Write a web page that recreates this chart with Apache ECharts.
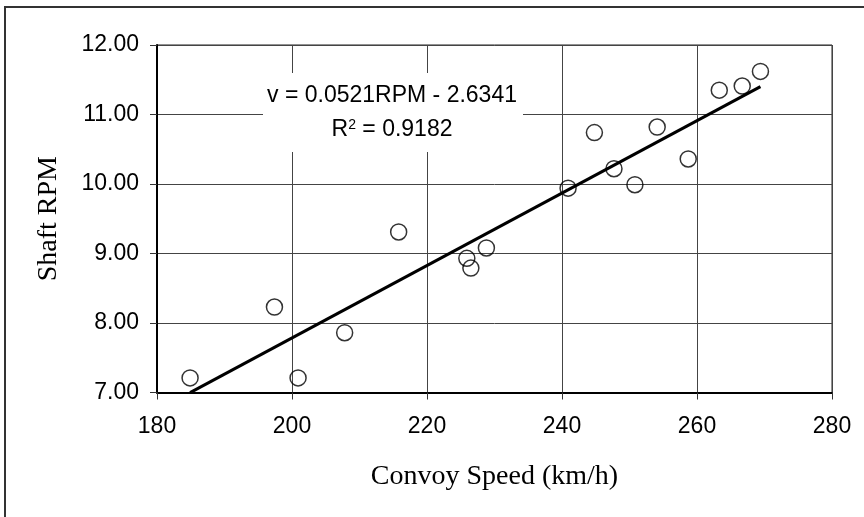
<!DOCTYPE html>
<html lang="en">

<head>
    <meta charset="UTF-8">
    <title>Shaft RPM vs Convoy Speed</title>
</head>

<body style="margin: 0; background: #fff">
    <div id="main" style="width:864px;height:517px"></div>
    <script src="https://cdn.jsdelivr.net/npm/echarts@6.0.0/dist/echarts.min.js"></script>
    <script type="text/javascript">

        // data
        var speed = [184.9, 197.4, 200.9, 207.8, 215.8, 225.9, 226.5, 228.8, 240.9, 244.8,
            247.7, 250.8, 254.1, 258.7, 263.3, 266.7, 269.4];
        var rpm = [7.21, 8.23, 7.21, 7.86, 9.31, 8.93, 8.79, 9.08, 9.94, 10.74,
            10.22, 9.99, 10.82, 10.36, 11.35, 11.41, 11.62];
        var xTicks = [180, 200, 220, 240, 260, 280];
        var yTicks = [7, 8, 9, 10, 11, 12];

        // trend line coefficients as printed on the chart
        var slope = 0.0521;
        var intercept = -2.6341;
        var eqText = 'v = 0.0521RPM - 2.6341';
        var r2Text = 'R{sup|2} = 0.9182';

        var points = speed.map(function (s, i) {
            return [s, rpm[i]];
        });
        var xMin = Math.min.apply(null, speed);
        var xMax = Math.max.apply(null, speed);
        var trend = [
            [xMin, slope * xMin + intercept],
            [xMax, slope * xMax + intercept]
        ];

        var chart = echarts.init(document.getElementById('main'));
        var option = {
            animation: false,
            grid: {
                left: 157,
                top: 45,
                right: 32,
                bottom: 124.5,
                show: true,
                borderColor: '#222',
                borderWidth: 1
            },
            xAxis: {
                type: 'value',
                min: xTicks[0],
                max: xTicks[xTicks.length - 1],
                interval: 20,
                name: 'Convoy Speed (km/h)',
                nameLocation: 'middle',
                nameGap: 70,
                nameTextStyle: { fontFamily: 'Liberation Serif', fontSize: 28, color: '#000' },
                axisLine: { lineStyle: { color: '#000', width: 2 } },
                axisTick: { show: true, inside: false, length: 7, lineStyle: { color: '#333' } },
                axisLabel: { fontFamily: 'Liberation Sans', fontSize: 23, color: '#000', margin: 23 },
                splitLine: { show: true, lineStyle: { color: '#444', width: 1 } }
            },
            yAxis: {
                type: 'value',
                min: yTicks[0],
                max: yTicks[yTicks.length - 1],
                interval: 1,
                name: 'Shaft RPM',
                nameLocation: 'middle',
                nameGap: 94,
                nameTextStyle: { fontFamily: 'Liberation Serif', fontSize: 28, color: '#000' },
                axisLine: { show: true, lineStyle: { color: '#000', width: 2 } },
                axisTick: { show: true, inside: false, length: 7, lineStyle: { color: '#333' } },
                axisLabel: {
                    fontFamily: 'Liberation Sans', fontSize: 23, color: '#000', margin: 18,
                    formatter: function (v) { return v.toFixed(2); }
                },
                splitLine: { show: true, lineStyle: { color: '#444', width: 1 } }
            },
            graphic: [
                {
                    type: 'rect',
                    shape: { x: 5, y: 7, width: 900, height: 560 },
                    style: { fill: 'none', stroke: '#333', lineWidth: 2 },
                    silent: true
                },
                {
                    type: 'rect',
                    z: 50,
                    shape: { x: 263, y: 73, width: 260, height: 79 },
                    style: { fill: '#fff' },
                    silent: true
                },
                {
                    type: 'text',
                    z: 51,
                    x: 392,
                    y: 96,
                    style: {
                        text: eqText, fontFamily: 'Liberation Sans', fontSize: 23,
                        fill: '#000', align: 'center', verticalAlign: 'middle'
                    }
                },
                {
                    type: 'text',
                    z: 51,
                    x: 392,
                    y: 130,
                    style: {
                        text: r2Text, fontFamily: 'Liberation Sans', fontSize: 23,
                        fill: '#000', align: 'center', verticalAlign: 'middle',
                        rich: {
                            sup: { fontFamily: 'Liberation Sans', fontSize: 14, verticalAlign: 'top', fill: '#000' }
                        }
                    }
                }
            ],
            series: [
                {
                    type: 'scatter',
                    data: points,
                    symbol: 'circle',
                    symbolSize: 16,
                    itemStyle: { color: 'rgba(255,255,255,0)', borderColor: '#000', borderWidth: 1.5 },
                    z: 3
                },
                {
                    type: 'line',
                    data: trend,
                    showSymbol: false,
                    lineStyle: { color: '#000', width: 3 },
                    z: 4
                }
            ]
        };
        chart.setOption(option);

    </script>
</body>

</html>
